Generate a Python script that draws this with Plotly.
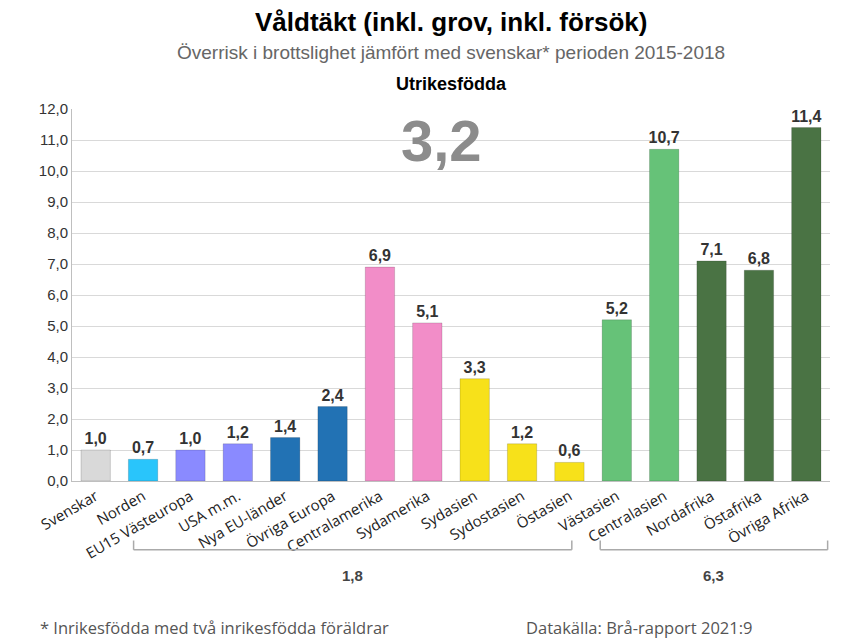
import plotly.graph_objects as go

categories = ["Svenskar","Norden","EU15 Västeuropa","USA m.m.","Nya EU-länder","Övriga Europa",
              "Centralamerika","Sydamerika","Sydasien","Sydostasien","Östasien","Västasien",
              "Centralasien","Nordafrika","Östafrika","Övriga Afrika"]
values = [1.0,0.7,1.0,1.2,1.4,2.4,6.9,5.1,3.3,1.2,0.6,5.2,10.7,7.1,6.8,11.4]
colors = ["#d9d9d9","#29c5fb","#8a8aff","#8a8aff","#2272b4","#2272b4","#f28dc8","#f28dc8",
          "#f7e11a","#f7e11a","#f7e11a","#66c278","#66c278","#4a7344","#4a7344","#4a7344"]
labels = [f"<b>{v:.1f}</b>".replace(".", ",") for v in values]
ytick_vals = [i for i in range(13)]
ytick_text = [f"{v},0" for v in ytick_vals]
groups = [("1,8", 0.8, 10.05), ("6,3", 10.65, 15.45)]

fig = go.Figure(go.Bar(x=categories, y=values, marker_color=colors,
                       marker_line=dict(color="rgba(0,0,0,0.15)", width=1),
                       text=labels, textposition="outside", cliponaxis=False, constraintext="none",
                       textfont=dict(family="Arial", size=16, color="#333333")))
fig.update_layout(
    width=858, height=640, plot_bgcolor="white", paper_bgcolor="white",
    margin=dict(l=64, r=36, t=101, b=167), bargap=0.38, showlegend=False,
    font=dict(family="Arial"),
)
fig.update_yaxes(range=[0,12], tickvals=ytick_vals, ticktext=ytick_text, showgrid=True,
                 gridcolor="#d9d9d9", showline=True, linecolor="#bfbfbf", automargin=False,
                 tickfont=dict(size=15, color="#333"), ticks="", zeroline=False)
fig.update_xaxes(tickangle=-30, tickfont=dict(family="Open Sans", size=15, color="#222"),
                 showline=True, linecolor="#bfbfbf", range=[-0.5,15.5], automargin=False)
fig.add_annotation(text="<b>Våldtäkt (inkl. grov, inkl. försök)</b>", xref="paper", yref="paper",
                   x=0.5, y=1.235, showarrow=False, yanchor="middle", xanchor="center",
                   font=dict(size=26, color="black"))
fig.add_annotation(text="Överrisk i brottslighet jämfört med svenskar* perioden 2015-2018",
                   xref="paper", yref="paper", x=0.5, y=1.151, showarrow=False, yanchor="middle",
                   font=dict(size=19, color="#666"), xanchor="center")
fig.add_annotation(text="<b>Utrikesfödda</b>", xref="paper", yref="paper", x=0.5, y=1.067,
                   showarrow=False, font=dict(size=18, color="black"), xanchor="center", yanchor="middle")
fig.add_annotation(text="<b>3,2</b>", x=7.3, y=11.0, xref="x", yref="y", showarrow=False,
                   font=dict(size=58, color="#8c8c8c"))
for lab, x0, x1 in groups:
    fig.add_shape(type="line", xref="x", yref="paper", x0=x0, x1=x1, y0=-0.185, y1=-0.185,
                  line=dict(color="#aaaaaa", width=1.5))
    for xx in (x0, x1):
        fig.add_shape(type="line", xref="x", yref="paper", x0=xx, x1=xx, y0=-0.185, y1=-0.16,
                      line=dict(color="#aaaaaa", width=1.5))
    fig.add_annotation(text=f"<b>{lab}</b>", x=(x0+x1)/2, y=-0.253, xref="x", yref="paper",
                       yanchor="middle", showarrow=False, font=dict(size=15, color="#444"))
fig.add_annotation(text="* Inrikesfödda med två inrikesfödda föräldrar", xref="paper", yref="paper",
                   x=-0.045, y=-0.395, xanchor="left", yanchor="middle", showarrow=False,
                   font=dict(family="Open Sans", size=16.5, color="#555"))
fig.add_annotation(text="Datakälla: Brå-rapport 2021:9", xref="paper", yref="paper",
                   x=0.9, y=-0.395, xanchor="right", yanchor="middle", showarrow=False,
                   font=dict(family="Open Sans", size=16.5, color="#555"))
fig.write_html("out.html")
